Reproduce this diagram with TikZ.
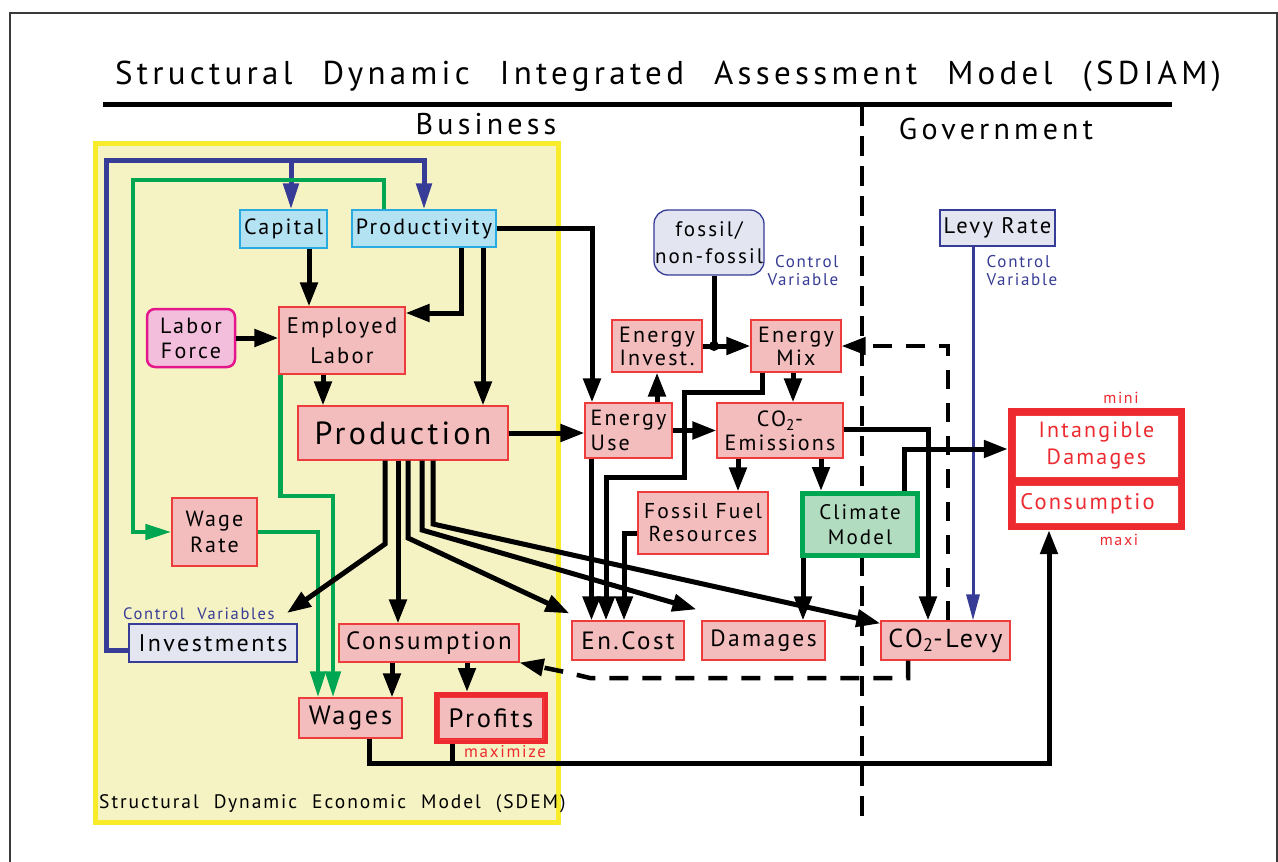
\documentclass[tikz,border=0pt]{standalone}
\usepackage{fontspec}
\setmainfont[LetterSpace=10]{PT Sans}
\newfontfamily\widefont[LetterSpace=13,WordSpace=2.3]{PT Sans}
\newfontfamily\notefont[LetterSpace=10,WordSpace=2.1]{PT Sans}
\newfontfamily\headfont[LetterSpace=14]{PT Sans}
\usetikzlibrary{arrows.meta}

\definecolor{npink}{HTML}{F2BDBC}
\definecolor{nred}{HTML}{EE3B3B}
\definecolor{nblue}{HTML}{B3E2F3}
\definecolor{ncyan}{HTML}{29ABE2}
\definecolor{lfpink}{HTML}{F3BEDC}
\definecolor{lfmag}{HTML}{E4168B}
\definecolor{lav}{HTML}{E3E5F1}
\definecolor{navy}{HTML}{373C96}
\definecolor{cgreen}{HTML}{B2DCC0}
\definecolor{dgreen}{HTML}{00A651}
\definecolor{tred}{HTML}{ED2A2F}
\definecolor{sdemfill}{HTML}{F5F3C3}
\definecolor{sdemline}{HTML}{F8EB2A}
\definecolor{framegray}{HTML}{3A3A3A}

\newcommand\fz[2]{\fontsize{#1}{#2}\selectfont}

\begin{document}
\begin{tikzpicture}[x=1pt,y=-1pt,
  wh/.style 2 args={minimum width=#1pt, minimum height=#2pt},
  nd/.style={draw=nred, fill=npink, line width=1.2pt, inner sep=0pt, align=center},
  cv/.style={draw=ncyan, fill=nblue, line width=1.2pt, inner sep=0pt, align=center},
  ctl/.style={draw=navy, fill=lav, inner sep=0pt, align=center},
  tip/.style={-{Triangle[length=24pt,width=17pt]}},
  arr/.style={line width=5pt, tip},
  plain/.style={line width=5pt},
  garr/.style={dgreen, line width=4.5pt, -{Triangle[length=26pt,width=15pt]}},
  barr/.style={navy, line width=5pt, -{Triangle[length=26pt,width=15pt]}},
  bthin/.style={navy, line width=3pt, -{Triangle[length=26pt,width=13pt]}},
  darr/.style={line width=4.5pt, dash pattern=on 19pt off 14pt, tip},
  cvtext/.style={text=navy, inner sep=0pt},
  redtext/.style={text=tred, inner sep=0pt},
]
\useasboundingbox (0,0) rectangle (1278,862);
\fill[white] (0,0) rectangle (1278,862);

% outer frame
\draw[framegray, line width=1.5pt] (10,870) -- (10,13) -- (1277,13) -- (1277,870);

% title and header rule
\node[anchor=base, inner sep=0pt, font={\widefont\fz{33}{36}}] (title) at (668,84)
  {Structural Dynamic Integrated Assessment Model (SDIAM)};
\draw[line width=5pt] (103,104) -- (1172,104);

% business area
\draw[sdemline, fill=sdemfill, line width=5pt] (95,143) rectangle (558,822);
\node[anchor=base, inner sep=0pt, font={\headfont\fz{30}{32}}] (biz) at (486,134) {Business};
\node[anchor=base, inner sep=0pt, font={\headfont\fz{30}{32}}] (gov) at (996,139) {Government};
\node[anchor=base west, inner sep=0pt, font={\notefont\fz{19.5}{22}}] (sdem) at (99,808)
  {Structural Dynamic Economic Model (SDEM)};

% business / government divider
\draw[line width=4pt, dash pattern=on 20pt off 10pt] (862,106) -- (862,824);

% ---- nodes ----
\node[cv, wh={87}{38}, font=\fz{22}{24}] (cap) at (283.5,229) {Capital};
\node[cv, wh={144}{37}, font=\fz{22}{24}] (prod) at (424,228.5) {Productivity};
\node[draw=lfmag, fill=lfpink, line width=2.5pt, rounded corners=8pt, inner sep=0pt,
      align=center, wh={88}{58}, font=\fz{22}{25}] (labf) at (191,338) {Labor\\Force};
\node[nd, wh={126}{67}, font=\fz{22.5}{30}] (empl) at (342,340.5) {Employed\\Labor};
\node[nd, wh={210}{54}, font=\fz{32}{34}] (prodn) at (403,433) {Production};
\node[nd, wh={85}{68}, font=\fz{22}{26}] (wrate) at (214.5,532) {Wage\\Rate};
\node[ctl, line width=1.5pt, wh={168}{38}, font=\fz{24}{26}] (inv) at (213,643) {Investments};
\node[nd, wh={180}{38}, font=\fz{25}{26}] (cons) at (429,643) {Consumption};
\node[nd, wh={103}{40}, font=\fz{26.5}{28}] (wages) at (350.5,718) {Wages};
\node[draw=tred, fill=npink, line width=6pt, inner sep=0pt, wh={108}{46},
      font=\fz{26.5}{28}] (profits) at (491,718) {Profits};
\draw[nred, line width=1pt] ([shift={(5pt,-5pt)}]profits.north west)
  rectangle ([shift={(-5pt,5pt)}]profits.south east);

\node[ctl, rounded corners=14pt, line width=1.3pt, wh={110}{65}, font=\fz{21}{27}] (fossil)
  at (709,242.5) {fossil/\\non-fossil};
\node[nd, wh={90}{52}, font=\fz{22}{23}] (einv) at (657,346) {Energy\\Invest.};
\node[nd, wh={90}{52}, font=\fz{22}{23}] (emix) at (796,346) {Energy\\Mix};
\node[nd, align=left, wh={87}{55}, font=\fz{22}{25}] (euse) at (628.5,430.5) {Energy\\Use};
\node[nd, wh={126}{55}, font=\fz{22}{24}] (co2e) at (780,430.5) {CO\textsubscript{2}-\\Emissions};
\node[nd, wh={130}{62}, font=\fz{21.5}{23}] (ffr) at (703,523) {Fossil Fuel\\Resources};
\node[draw=dgreen, fill=cgreen, line width=5pt, inner sep=0pt, align=center,
      wh={115}{62}, font=\fz{21}{25}] (clim) at (860,524.5) {Climate\\Model};
\node[nd, wh={112}{39}, font=\fz{25}{26}] (encost) at (628,640.5) {En.Cost};
\node[nd, wh={123}{39}, font=\fz{23.5}{26}] (dam) at (763.5,640.5) {Damages};
\node[nd, wh={129}{39}, font=\fz{26}{26}] (levy) at (945.5,640.5) {CO\textsubscript{2}-Levy};
\node[ctl, line width=2.5pt, wh={115}{36}, font=\fz{22.5}{24}] (lrate) at (997.5,228) {Levy Rate};

% objective box
\node[fill=tred, inner sep=0pt, wh={177}{122}] (intang) at (1096.5,469) {};
\node[fill=white, draw=nred, line width=0.8pt, inner sep=0pt, align=center, text=tred,
      wh={163}{62}, font=\fz{22}{27}] (intd) at (1096.5,446) {Intangible\\Damages};
\node[fill=white, draw=nred, line width=0.8pt, inner sep=0pt, wh={163}{38}] (intc)
  at (1096.5,504) {};
\node[redtext, font=\fz{22.5}{24}] (intctxt) at (1087.5,504) {Consumptio};
\node[redtext, font=\fz{16}{18}] (mini) at (1121,398) {mini};
\node[redtext, font=\fz{16}{18}] (maxi) at (1119,540) {maxi};
\node[redtext, anchor=base west, font=\fz{17}{18}] (maxim) at (464,757) {maximize};

% control variable labels
\node[cvtext, anchor=base west, font={\notefont\fz{16.5}{18}}] (cvinv) at (123,619) {Control Variables};
\node[cvtext, align=right, font=\fz{17}{18}] (cvfos) at (803,271) {Control\\Variable};
\node[cvtext, align=left, font=\fz{17}{18}] (cvlev) at (1022,271) {Control\\Variable};

% ---- blue control links ----
\draw[barr] ([yshift=-7pt]inv.west) -| (106,160) -| (prod.north);
\draw[barr] (291,160) -- ([xshift=7.5pt]cap.north);
\draw[bthin] ([xshift=-24.5pt]lrate.south) -- ([xshift=-24.5pt]lrate.south |- levy.north);

% ---- green labour links ----
\draw[garr] ([xshift=-40pt]prod.north) |- (133,180) |- (wrate.west);
\draw[garr] ([xshift=2pt]empl.south west) |- (333,496) -- ([xshift=-17.5pt]wages.north);
\draw[garr] (wrate.east) -| ([xshift=-32.5pt]wages.north);

% ---- economy ----
\draw[arr] ([xshift=25.5pt]cap.south) -- ([xshift=25.5pt]cap.south |- empl.north);
\draw[arr] (labf.east) -- (labf.east -| empl.west);
\draw[arr] ([xshift=37pt]prod.south) |- ([yshift=27.5pt]empl.east);
\draw[arr] ([xshift=59pt]prod.south) -- ([xshift=59pt]prod.south |- prodn.north);
\draw[arr] ([xshift=-19pt]empl.south) -- ([xshift=-19pt]empl.south |- prodn.north);
\draw[arr] (prod.east) -| ([xshift=-36.5pt]euse.north);
\draw[arr] (prodn.east) -- (prodn.east -| euse.west);

\coordinate (invtip) at (287,613);
\draw[arr] ([xshift=-18pt]prodn.south) -- (385,544) -- (invtip);
\draw[arr] ([xshift=-5pt]prodn.south) -- ([xshift=-5pt]prodn.south |- cons.north);
\draw[arr] ([xshift=5pt]prodn.south) -- (408,538) -- ([shift={(-2pt,7pt)}]encost.north west);
\draw[arr] ([xshift=19pt]prodn.south) -- (422,530) -- ([shift={(-5pt,11pt)}]dam.north west);
\draw[arr] ([xshift=30pt]prodn.south) -- (433,524) -- ([yshift=-3pt]levy.north west);

\draw[arr] ([xshift=-37pt]cons.south) -- ([xshift=-37pt]cons.south |- wages.north);
\draw[arr] ([xshift=38pt]cons.south) -- ([xshift=38pt]cons.south |- profits.north);
\draw[arr] ([xshift=18.5pt]wages.south) |- (1049,763) -- ([xshift=-47.5pt]intang.south);
\draw[plain] ([xshift=-39pt]profits.south) -- (452,763);

% ---- energy ----
\draw[arr] (euse.north -| einv.south) -- (einv.south);
\draw[arr] (einv.east) -- (einv.east -| emix.west);
\coordinate (fj) at (714,346);
\draw[plain] ([xshift=5pt]fossil.south) -- (fj);
\fill (fj) circle (5pt);
\draw[arr] (euse.east) -- (euse.east -| co2e.west);
\draw[arr] ([xshift=-3pt]emix.south) -- ([xshift=-3pt]emix.south |- co2e.north);
\draw[arr] ([xshift=-34pt]emix.south) |- (684,392) |- (606,477) -- ([xshift=-22pt]encost.north);
\draw[arr] ([xshift=-37pt]euse.south) -- ([xshift=-37pt]euse.south |- encost.north);
\draw[arr] ([yshift=-10pt]ffr.west) -| ([xshift=-4pt]encost.north);
\draw[arr] ([xshift=-42pt]co2e.south) -- ([xshift=-42pt]co2e.south |- ffr.north);
\draw[arr] ([xshift=41pt]co2e.south) -- ([xshift=41pt]co2e.south |- clim.north);
\draw[arr] ([yshift=1.5pt]co2e.east) -| ([xshift=-17.5pt]levy.north);
\draw[arr] ([xshift=-57pt]clim.south) -- ([xshift=-57pt]clim.south |- dam.north);
\draw[arr] ([xshift=44pt]clim.north) |- ([yshift=20pt]intang.west);

% ---- levy feedbacks ----
\draw[darr] ([xshift=2.5pt]levy.north) |- (emix.east);
\draw[darr] ([xshift=-37.5pt]levy.south) |- (590,678) -- (565,672) -- (cons.south east);
\end{tikzpicture}
\end{document}
